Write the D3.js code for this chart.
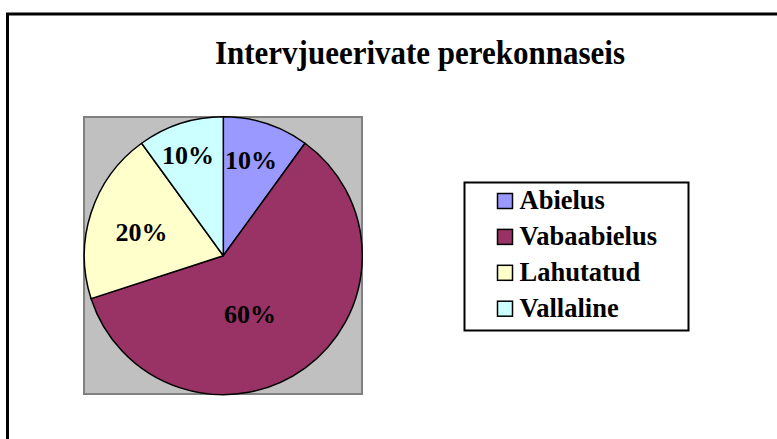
<!DOCTYPE html>
<html>
<head>
<meta charset="utf-8">
<script src="https://cdn.jsdelivr.net/npm/d3@7"></script>
<style>
  body { margin: 0; background: #fff; }
  svg { display: block; font-family: "Liberation Serif", "Times New Roman", serif; font-weight: bold; }
</style>
</head>
<body>
<div id="vis"></div>
<script>
// data
const categories = ["Abielus", "Vabaabielus", "Lahutatud", "Vallaline"];
const values = [10, 60, 20, 10];
const labels = ["10%", "60%", "20%", "10%"];
const colors = ["#9999ff", "#993366", "#ffffcc", "#ccffff"];

// constants
const FRAME_WIDTH = 777;
const FRAME_HEIGHT = 439;
const CX = 223.3, CY = 255.7, R = 139;

// label placement: fraction of radius and angle nudge (deg)
const LABEL_R = [0.713, 0.465, 0.612, 0.764];
const LABEL_NUDGE = [-1.8, 11.6, -2.2, -1.4];

const svg = d3.select("#vis")
  .append("svg")
  .attr("width", FRAME_WIDTH)
  .attr("height", FRAME_HEIGHT);

// chart border (runs off the right and bottom)
svg.append("rect")
  .attr("x", 7.5).attr("y", 14)
  .attr("width", 800).attr("height", 460)
  .attr("fill", "#fff")
  .attr("stroke", "#000")
  .attr("stroke-width", 3);

// title, slightly stretched vertically like the original
svg.append("text")
  .attr("transform", "translate(420,64) scale(1,1.12)")
  .attr("text-anchor", "middle")
  .attr("font-size", "31px")
  .text("Intervjueerivate perekonnaseis");

// plot area
svg.append("rect")
  .attr("x", 84).attr("y", 117)
  .attr("width", 278).attr("height", 277)
  .attr("fill", "#c0c0c0")
  .attr("stroke", "#808080")
  .attr("stroke-width", 2);

const pie = d3.pie().sort(null).value(d => d);
const arcs = pie(values);
const arc = d3.arc().innerRadius(0).outerRadius(R);

const g = svg.append("g").attr("transform", "translate(" + CX + "," + CY + ")");

g.selectAll("path")
  .data(arcs)
  .enter()
  .append("path")
  .attr("d", arc)
  .attr("fill", (d, i) => colors[i])
  .attr("stroke", "#000")
  .attr("stroke-width", 1.5)
  .attr("stroke-linejoin", "round");

// slice labels
g.selectAll("text.lbl")
  .data(arcs)
  .enter()
  .append("text")
  .attr("class", "lbl")
  .attr("text-anchor", "middle")
  .attr("font-size", "26px")
  .attr("transform", (d, i) => {
    const a = (d.startAngle + d.endAngle) / 2 + LABEL_NUDGE[i] * Math.PI / 180;
    const r = R * LABEL_R[i];
    return "translate(" + (r * Math.sin(a)) + "," + (-r * Math.cos(a) + 8.8) + ")";
  })
  .text((d, i) => labels[i]);

// legend
const legend = svg.append("g");
legend.append("rect")
  .attr("x", 464.5).attr("y", 182.5)
  .attr("width", 224).attr("height", 148)
  .attr("fill", "#fff")
  .attr("stroke", "#000")
  .attr("stroke-width", 2);

const rowY = d3.scalePoint().domain(categories).range([201, 308.7]);

const items = legend.selectAll("g.item")
  .data(categories)
  .enter()
  .append("g")
  .attr("class", "item")
  .attr("transform", d => "translate(0," + rowY(d) + ")");

items.append("rect")
  .attr("x", 497.5).attr("y", -7.5)
  .attr("width", 15).attr("height", 15)
  .attr("fill", (d, i) => colors[i])
  .attr("stroke", "#000")
  .attr("stroke-width", 1.5);

items.append("text")
  .attr("x", 519.5).attr("y", 8)
  .attr("font-size", "26.5px")
  .text(d => d);
</script>
</body>
</html>
